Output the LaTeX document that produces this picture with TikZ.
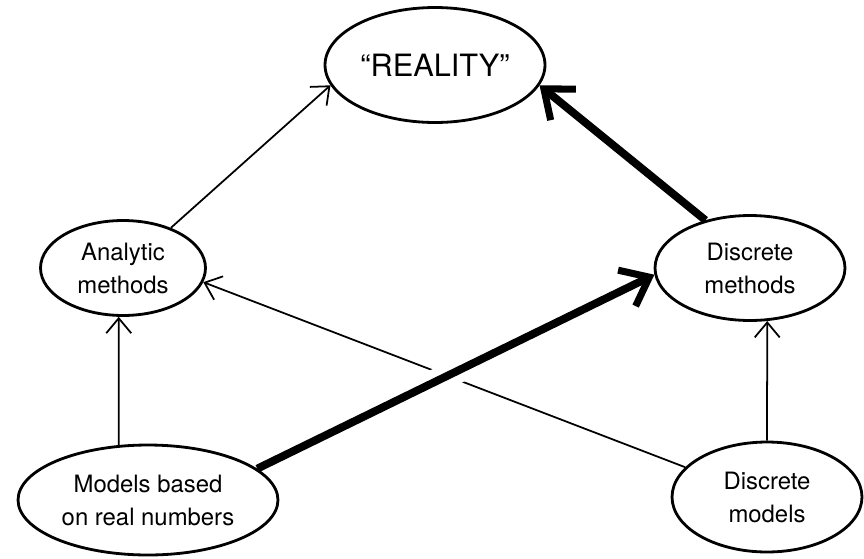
\documentclass[tikz,border=0pt]{standalone}
\usepackage{fontspec}
\setmainfont{TeX Gyre Heros}
\usetikzlibrary{shapes.geometric}
\usetikzlibrary{arrows.meta}

\begin{document}
\begin{tikzpicture}[x=0.02cm, y=-0.02cm]
  \tikzstyle{blob}=[ellipse, draw, line width=1.6pt, inner sep=0pt, align=center,
                    font=\fontsize{13.6}{18.8}\selectfont]
  \tikzstyle{thin}=[line width=1pt, -{Straight Barb[length=3mm, width=5mm]}]
  \tikzstyle{heavy}=[line width=4.5pt, -{Straight Barb[length=5mm, width=8mm, line width=4pt]}]
  \useasboundingbox (0,0) rectangle (864,558);
  \node [blob, minimum width=4.4cm, minimum height=2.3cm,
         font=\fontsize{17.5}{21}\selectfont] at (435,65) (real) {``REALITY''};
  \node [blob, minimum width=3.3cm, minimum height=1.9cm] at (123,268) (ana) {Analytic\\methods};
  \node [blob, minimum width=3.8cm, minimum height=2.1cm] at (750,268) (dmeth) {Discrete\\methods};
  \node [blob, minimum width=5.2cm, minimum height=2.2cm] at (148,500) (mreal) {Models based\\on real numbers};
  \node [blob, minimum width=3.8cm, minimum height=2.2cm] at (767,497) (dmod) {Discrete\\models};
  \draw[thin] (ana.40) -- (real.191);
  \draw[thin] (mreal.118) -- (ana.265);
  \draw[thin] (dmod.90) -- (dmeth.288);
  \draw[thin] (dmod.160) -- (ana.350);
  % gap where the thin line passes under the heavy one
  \path (mreal.16) -- (dmeth.184) coordinate[pos=0.41] (gapa) coordinate[pos=0.55] (gapb);
  \draw[white, line width=0.5cm] (gapa) -- (gapb);
  \draw[heavy] (mreal.16) -- (dmeth.184);
  \draw[heavy] (dmeth.133) -- (real.349);
\end{tikzpicture}
\end{document}
